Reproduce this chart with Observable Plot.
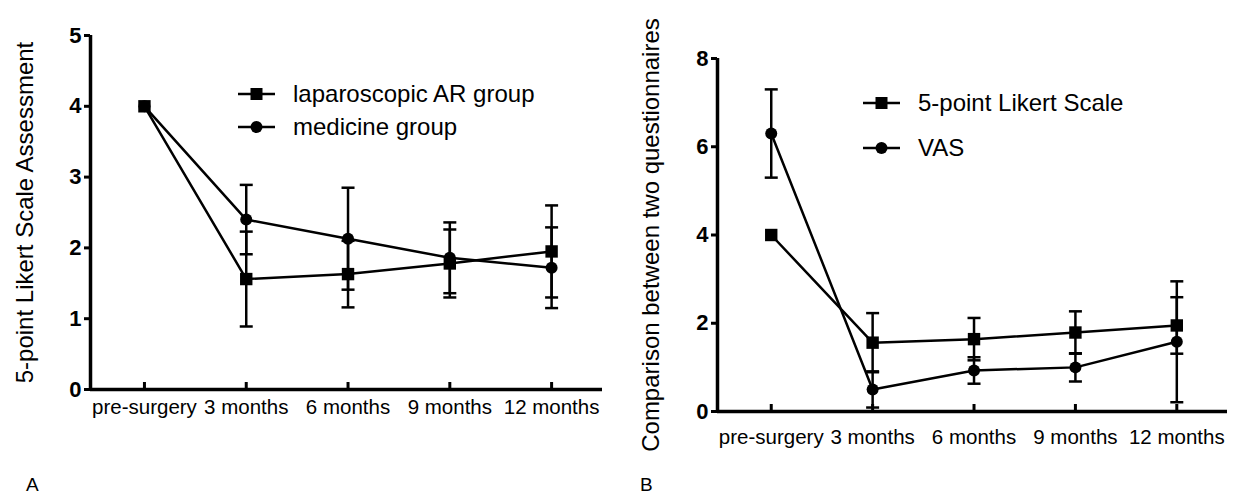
<!DOCTYPE html>
<html>
<head>
<meta charset="utf-8">
<script src="https://cdn.jsdelivr.net/npm/d3@7"></script>
<script src="https://cdn.jsdelivr.net/npm/@observablehq/plot@0.6"></script>
<style>
  html, body { margin: 0; padding: 0; background: #fff; }
  #wrap { position: relative; width: 1238px; height: 495px; overflow: hidden; font-family: "Liberation Sans", Arial, sans-serif; }
  .panel { position: absolute; top: 0; }
  .panel g[aria-label="y-axis tick label"] { font-weight: bold; font-size: 22px; }
  .leg { position: absolute; display: flex; align-items: center; height: 30px; }
  .leg span { margin-left: 18px; font-size: 24px; color: #000; white-space: nowrap; }
  .letter { position: absolute; font-size: 19px; color: #000; }
</style>
</head>
<body>
<div id="wrap"></div>
<script>
// ---------- data ----------
const timepoints = ["pre-surgery", "3 months", "6 months", "9 months", "12 months"];

// Panel A: 5-point Likert Scale Assessment
const aSeriesNames = ["laparoscopic AR group", "medicine group"];
const aLapMean = [4, 1.56, 1.63, 1.78, 1.95];
const aLapSD   = [0, 0.67, 0.47, 0.48, 0.65];
const aMedMean = [4, 2.40, 2.13, 1.86, 1.72];
const aMedSD   = [0, 0.49, 0.72, 0.50, 0.57];
const aYTicks  = [0, 1, 2, 3, 4, 5];

// Panel B: Comparison between two questionnaires
const bSeriesNames = ["5-point Likert Scale", "VAS"];
const bLikertMean = [4, 1.56, 1.64, 1.79, 1.95];
const bLikertSD   = [0, 0.67, 0.48, 0.48, 0.64];
const bVasMean    = [6.30, 0.50, 0.93, 1.00, 1.58];
const bVasSD      = [1.00, 0.41, 0.30, 0.32, 1.37];
const bYTicks     = [0, 2, 4, 6, 8];

// ---------- helpers ----------
const capSymbol = { draw(ctx, size) { const w = Math.sqrt(size / Math.PI); ctx.moveTo(-w, 0); ctx.lineTo(w, 0); } };
const tickUpSymbol = { draw(ctx, size) { const h = Math.sqrt(size / Math.PI); ctx.moveTo(0, 0); ctx.lineTo(0, -h); } };

function rows(means, sds) {
  return timepoints.map((t, i) => ({ i, t, mean: means[i], sd: sds[i], lo: means[i] - sds[i], hi: means[i] + sds[i] }));
}
function caps(r) {
  return r.filter(d => d.sd > 0).flatMap(d => [{ i: d.i, y: d.lo }, { i: d.i, y: d.hi }]);
}

const xDomain = [-0.53, 4.5];
const LW = 2.5;

function seriesMarks(r, symbol, radius) {
  return [
    Plot.ruleX(r.filter(d => d.sd > 0), { x: "i", y1: "lo", y2: "hi", stroke: "black", strokeWidth: LW }),
    Plot.dot(caps(r), { x: "i", y: "y", symbol: capSymbol, r: 6.5, stroke: "black", fill: "none", strokeWidth: LW }),
    Plot.line(r, { x: "i", y: "mean", stroke: "black", strokeWidth: LW }),
    Plot.dot(r, { x: "i", y: "mean", symbol, r: radius, fill: "black", stroke: "none" })
  ];
}

function panel({ yTicks, label, labelDx, margins, tickPadding, s1, s2 }) {
  const yMax = yTicks[yTicks.length - 1];
  return Plot.plot({
    width: 619,
    height: 495,
    marginLeft: margins[0], marginRight: margins[1], marginTop: margins[2], marginBottom: margins[3],
    style: { fontFamily: "'Liberation Sans', Arial, sans-serif", background: "white", color: "black", overflow: "visible" },
    x: { type: "linear", domain: xDomain },
    y: { domain: [0, yMax] },
    marks: [
      ...seriesMarks(s1, "square", 7),
      ...seriesMarks(s2, "circle", 6),
      Plot.ruleY([0], { stroke: "black", strokeWidth: 3.5 }),
      Plot.ruleX([xDomain[0]], { stroke: "black", strokeWidth: 3.5 }),
      Plot.dot(timepoints.map((t, i) => i), { x: d => d, y: () => 0, symbol: tickUpSymbol, r: 7.5, stroke: "black", fill: "none", strokeWidth: 3 }),
      Plot.axisX({ ticks: timepoints.map((t, i) => i), tickFormat: i => timepoints[i], tickSize: 0, tickPadding, fontSize: 20.5, label: null }),
      Plot.axisY({ ticks: yTicks, tickFormat: d => String(d), tickSize: 6, tickPadding: 3, fontSize: 22, fontWeight: "bold", strokeWidth: 3, label: null }),
      Plot.text([label], { text: d => d, frameAnchor: "left", textAnchor: "middle", rotate: -90, dx: labelDx, fontSize: 24 })
    ]
  });
}

const wrap = document.getElementById("wrap");

const pA = panel({
  yTicks: aYTicks, label: "5-point Likert Scale Assessment", labelDx: -65,
  margins: [90, 17, 35, 106], tickPadding: 10,
  s1: rows(aLapMean, aLapSD), s2: rows(aMedMean, aMedSD)
});
pA.classList.add("panel"); pA.style.left = "0px";
wrap.appendChild(pA);

const pB = panel({
  yTicks: bYTicks, label: "Comparison between two questionnaires", labelDx: -66,
  margins: [98, 11, 58, 84], tickPadding: 18,
  s1: rows(bLikertMean, bLikertSD), s2: rows(bVasMean, bVasSD)
});
pB.classList.add("panel"); pB.style.left = "619px";
wrap.appendChild(pB);

// ---------- legends ----------
function swatch(kind) {
  const m = kind === "square"
    ? '<rect x="12.5" y="4" width="12" height="12" fill="black"/>'
    : '<circle cx="18.5" cy="10" r="6" fill="black"/>';
  return '<svg width="37" height="20"><line x1="0" x2="37" y1="10" y2="10" stroke="black" stroke-width="2.5"/>' + m + '</svg>';
}
function legend(names, left, centers) {
  const kinds = ["square", "circle"];
  names.forEach((n, k) => {
    const d = document.createElement("div");
    d.className = "leg";
    d.style.left = left + "px";
    d.style.top = (centers[k] - 15) + "px";
    d.innerHTML = swatch(kinds[k]) + "<span>" + n + "</span>";
    wrap.appendChild(d);
  });
}
legend(aSeriesNames, 238, [94, 127]);
legend(bSeriesNames, 863, [103, 148]);

// ---------- panel letters ----------
[["A", 26], ["B", 640]].forEach(([t, x]) => {
  const d = document.createElement("div");
  d.className = "letter";
  d.style.left = x + "px";
  d.style.top = "474px";
  d.textContent = t;
  wrap.appendChild(d);
});
</script>
</body>
</html>
